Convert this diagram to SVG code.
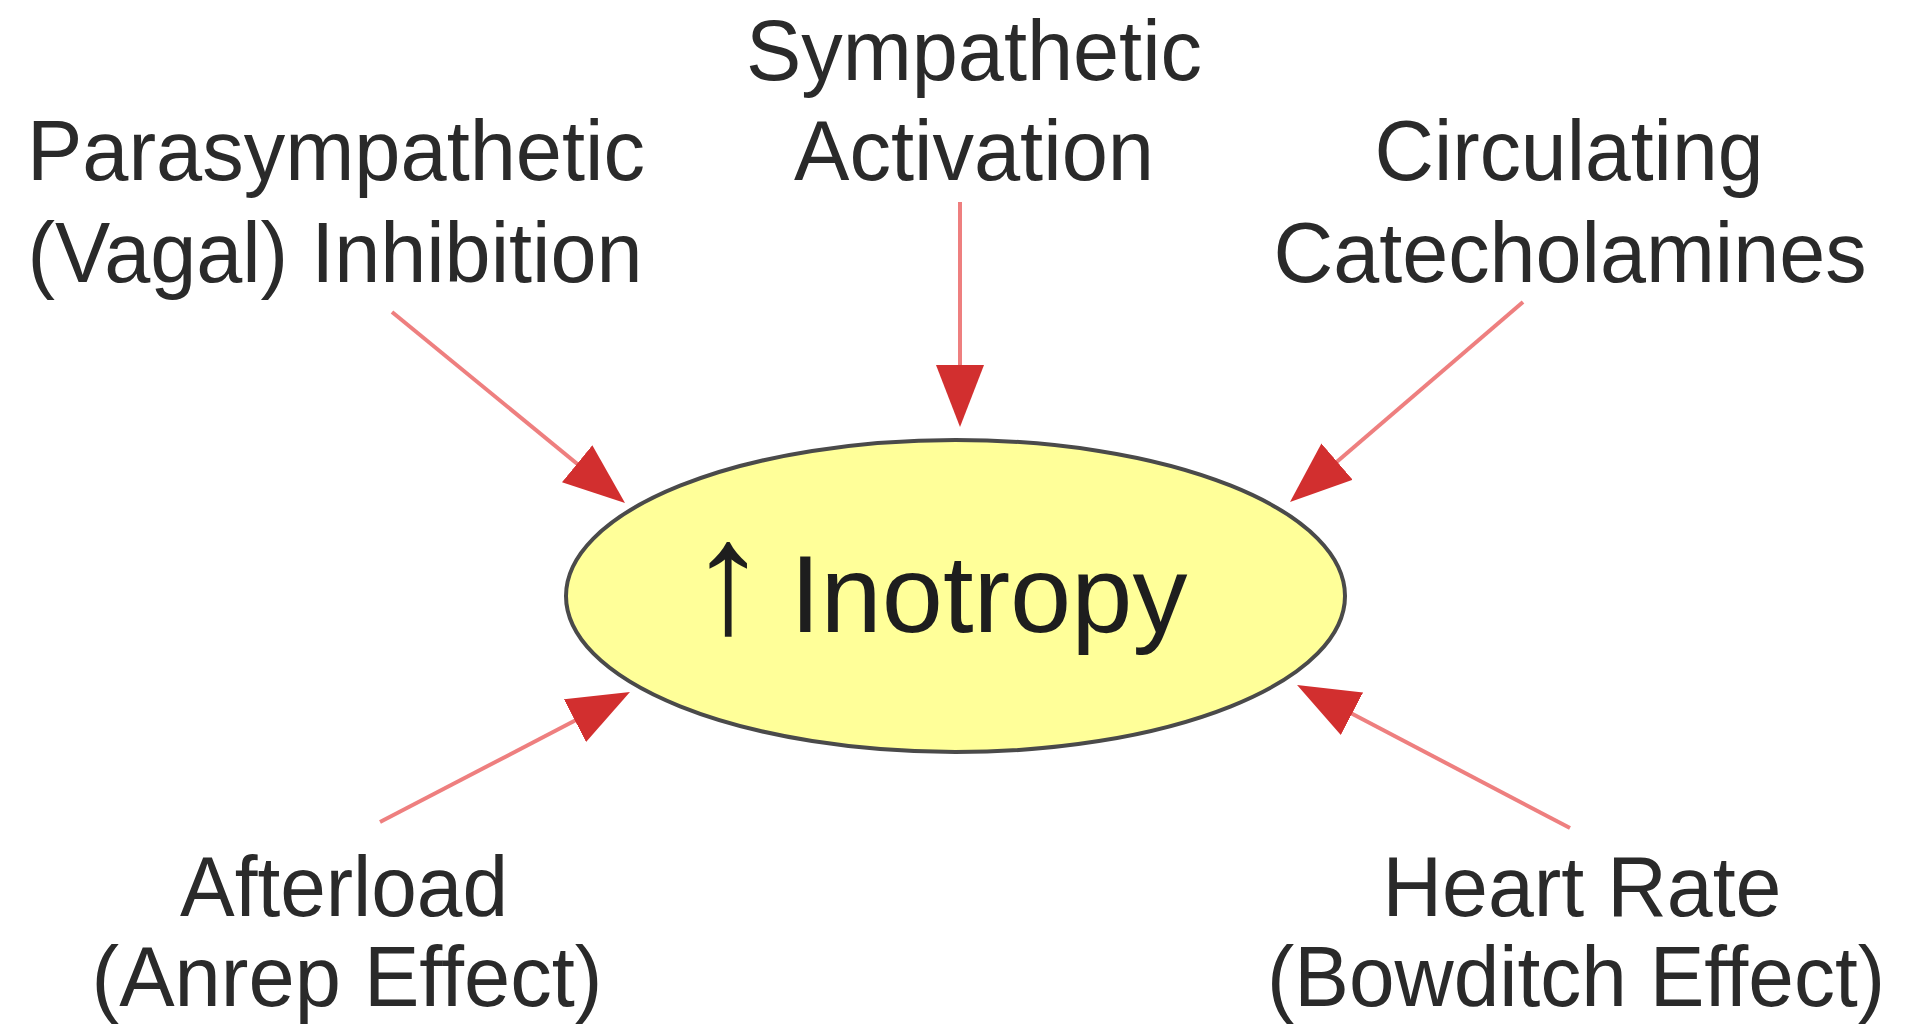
<svg xmlns="http://www.w3.org/2000/svg" width="1907" height="1030" viewBox="0 0 1907 1030">
  <style>
    .lbl { font-family: "Liberation Sans", Arial, sans-serif; font-size: 86px; fill: #2a2a2a; text-anchor: middle; }
    .main { font-family: "Liberation Sans", Arial, sans-serif; font-size: 110px; fill: #1e1e1e; }
    .up { font-size: 160px; }
    .conn { stroke: #EE7F7F; stroke-width: 4; fill: none; marker-end: url(#ah); }
  </style>
  <defs>
    <marker id="ah" markerUnits="userSpaceOnUse" markerWidth="62" markerHeight="48" viewBox="0 0 62 48" refX="52" refY="24" orient="auto">
      <path d="M0,0 L62,24 L0,48 z" fill="#D22F2F"/>
    </marker>
  </defs>
  <rect width="1907" height="1030" fill="#ffffff"/>

  <g id="connectors">
    <line class="conn" x1="392" y1="312" x2="617.3" y2="496.7"/>
    <line class="conn" x1="960" y1="202" x2="960" y2="417"/>
    <line class="conn" x1="1523" y1="302" x2="1297.6" y2="495.5"/>
    <line class="conn" x1="380" y1="822" x2="621.1" y2="696.6"/>
    <line class="conn" x1="1570" y1="828" x2="1305.9" y2="689.6"/>
  </g>

  <g id="inotropy">
    <ellipse cx="955.5" cy="596" rx="389.5" ry="156" fill="#FFFF99" stroke="#4a4a4a" stroke-width="4"/>
    <text class="main" x="688" y="632"><tspan class="up">↑</tspan> <tspan x="790">Inotropy</tspan></text>
  </g>

  <g id="sympathetic">
    <text class="lbl" x="974" y="80" textLength="456" lengthAdjust="spacingAndGlyphs">Sympathetic</text>
    <text class="lbl" x="974" y="180" textLength="360" lengthAdjust="spacingAndGlyphs">Activation</text>
  </g>

  <g id="parasympathetic">
    <text class="lbl" x="336" y="180" textLength="618" lengthAdjust="spacingAndGlyphs">Parasympathetic</text>
    <text class="lbl" x="335" y="282" textLength="615" lengthAdjust="spacingAndGlyphs">(Vagal) Inhibition</text>
  </g>

  <g id="catecholamines">
    <text class="lbl" x="1569" y="180" textLength="389" lengthAdjust="spacingAndGlyphs">Circulating</text>
    <text class="lbl" x="1570" y="282" textLength="593" lengthAdjust="spacingAndGlyphs">Catecholamines</text>
  </g>

  <g id="afterload">
    <text class="lbl" x="344" y="916" textLength="328" lengthAdjust="spacingAndGlyphs">Afterload</text>
    <text class="lbl" x="347" y="1006" textLength="511" lengthAdjust="spacingAndGlyphs">(Anrep Effect)</text>
  </g>

  <g id="heartrate">
    <text class="lbl" x="1582" y="916" textLength="399" lengthAdjust="spacingAndGlyphs">Heart Rate</text>
    <text class="lbl" x="1576" y="1006" textLength="618" lengthAdjust="spacingAndGlyphs">(Bowditch Effect)</text>
  </g>
</svg>
